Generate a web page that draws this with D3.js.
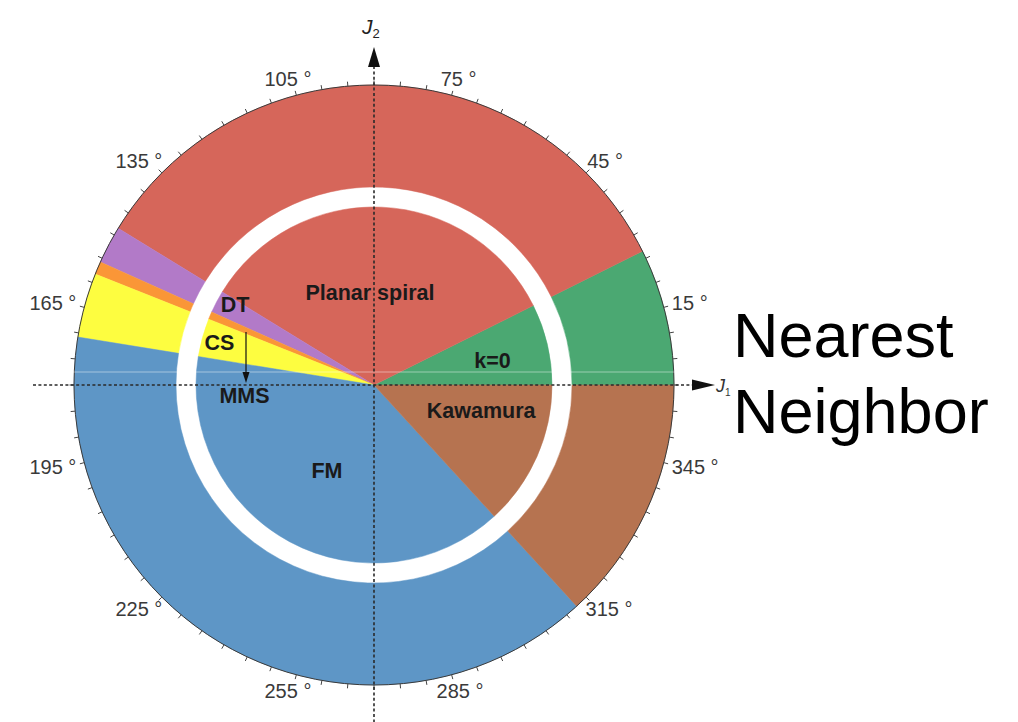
<!DOCTYPE html>
<html>
<head>
<meta charset="utf-8">
<script src="https://cdn.jsdelivr.net/npm/d3@7"></script>
<style>
  html, body { margin: 0; padding: 0; background: #fff; }
  svg { display: block; font-family: "Liberation Sans", Arial, Helvetica, sans-serif; }
</style>
</head>
<body>
<svg id="chart" width="1018" height="722"></svg>
<script>
// Phase sectors of the J1–J2 phase diagram (angles in degrees, counter-clockwise from +J1)
const phaseNames  = ["k=0", "Planar spiral", "DT", "", "CS", "FM", "Kawamura"];
const phaseStart  = [0, 26.5, 148.5, 155.8, 158.3, 170.8, 312.5];
const phaseEnd    = [26.5, 148.5, 155.8, 158.3, 170.8, 312.5, 360];
const phaseColors = ["#4ba872", "#d6665a", "#b27ac8", "#fa9637", "#fdfd40", "#5e96c6", "#b67350"];

// Angular tick labels around the outer ring
const tickAngles = [15, 45, 75, 105, 135, 165, 195, 225, 255, 285, 315, 345];
const tickLabels = ["15 °", "45 °", "75 °", "105 °", "135 °", "165 °", "195 °", "225 °", "255 °", "285 °", "315 °", "345 °"];

// Region label placement (angle in degrees, fraction of inner disc radius)
const labelText  = ["Planar spiral", "k=0", "Kawamura", "FM", "DT", "CS", "MMS"];
const labelAngle = [92.5, 11.5, -13.8, 241.3, 150.1, 164.7, 184.9];
const labelRadius = [0.52, 0.68, 0.62, 0.55, 0.90, 0.90, 0.73];

const svg = d3.select("#chart");
const cx = 374, cy = 385;
const R = 300, ringInner = 198, discR = 178;

// degrees (math convention) -> d3 arc angle (clockwise from 12 o'clock)
const ang = d3.scaleLinear().domain([0, 360]).range([Math.PI / 2, Math.PI / 2 - 2 * Math.PI]);
const rad = d3.scaleLinear().domain([0, 1]).range([0, discR]);
const px = (deg, r) => cx + r * Math.cos(deg * Math.PI / 180);
const py = (deg, r) => cy - r * Math.sin(deg * Math.PI / 180);

const sectors = phaseNames.map((n, i) => ({ name: n, a0: phaseStart[i], a1: phaseEnd[i], color: phaseColors[i] }));

const g = svg.append("g").attr("transform", `translate(${cx},${cy})`);

// outer ring
const outerArc = d3.arc().innerRadius(ringInner).outerRadius(R)
  .startAngle(d => ang(d.a1)).endAngle(d => ang(d.a0));
g.selectAll("path.outer").data(sectors).join("path")
  .attr("class", "outer").attr("d", outerArc).attr("fill", d => d.color)
  .attr("stroke", d => d.color).attr("stroke-width", 0.5);

// inner disc
const innerArc = d3.arc().innerRadius(0).outerRadius(discR)
  .startAngle(d => ang(d.a1)).endAngle(d => ang(d.a0));
g.selectAll("path.inner").data(sectors).join("path")
  .attr("class", "inner").attr("d", innerArc).attr("fill", d => d.color)
  .attr("stroke", d => d.color).attr("stroke-width", 0.5);

// outer boundary and 5° ticks
g.append("circle").attr("r", R).attr("fill", "none").attr("stroke", "#3a3a3a").attr("stroke-width", 1);
svg.append("g").selectAll("line").data(d3.range(0, 360, 5)).join("line")
  .attr("x1", d => px(d, R)).attr("y1", d => py(d, R))
  .attr("x2", d => px(d, R + 4.5)).attr("y2", d => py(d, R + 4.5))
  .attr("stroke", "#444").attr("stroke-width", 1);

// faint light streak across the diagram
svg.append("line").attr("x1", 60).attr("x2", 700).attr("y1", 372).attr("y2", 372)
  .attr("stroke", "#fff").attr("stroke-opacity", 0.22).attr("stroke-width", 2);

// dashed axes
const axisStyle = sel => sel.attr("stroke", "#2a2a2a").attr("stroke-width", 1.6).attr("stroke-dasharray", "3,2.4");
svg.append("line").attr("x1", 33).attr("y1", cy).attr("x2", 694).attr("y2", cy).call(axisStyle);
svg.append("line").attr("x1", cx).attr("y1", 66).attr("x2", cx).attr("y2", 722).call(axisStyle);

// axis arrowheads
svg.append("path").attr("d", `M${cx},47 L${cx - 6},67 L${cx + 6},67 Z`).attr("fill", "#111");
svg.append("path").attr("d", `M715,${cy} L692,${cy - 5.5} L692,${cy + 5.5} Z`).attr("fill", "#111");

// axis names
const j2 = svg.append("text").attr("x", 362).attr("y", 34).attr("font-size", 21).attr("fill", "#222").attr("font-style", "italic");
j2.append("tspan").text("J");
j2.append("tspan").attr("font-size", 13).attr("dy", 4).attr("font-style", "normal").text("2");
const j1 = svg.append("text").attr("x", 716).attr("y", 392).attr("font-size", 18).attr("fill", "#333").attr("font-style", "italic");
j1.append("tspan").text("J");
j1.append("tspan").attr("font-size", 10).attr("dy", 4).attr("font-style", "normal").text("1");

// angular tick labels, pushed outward by their box size
const tl = svg.append("g").selectAll("text").data(tickAngles).join("text")
  .attr("font-size", 20).attr("fill", "#3a3a3a")
  .attr("text-anchor", "middle").attr("dominant-baseline", "central")
  .text((d, i) => tickLabels[i]);
tl.each(function (d) {
  const w = this.getComputedTextLength(), h = 15;
  const t = d * Math.PI / 180;
  d3.select(this)
    .attr("x", px(d, 309) + (w / 2) * Math.cos(t))
    .attr("y", py(d, 309) - (h / 2) * Math.sin(t));
});

// region labels
svg.append("g").selectAll("text").data(labelText).join("text")
  .attr("x", (d, i) => px(labelAngle[i], rad(labelRadius[i])))
  .attr("y", (d, i) => py(labelAngle[i], rad(labelRadius[i])))
  .attr("text-anchor", "middle").attr("dominant-baseline", "central")
  .attr("font-size", 21.5).attr("font-weight", "bold").attr("fill", "#1a1a1a")
  .text(d => d);

// CS -> MMS arrow
svg.append("line").attr("x1", 246).attr("y1", 332).attr("x2", 246).attr("y2", 374)
  .attr("stroke", "#111").attr("stroke-width", 1.2);
svg.append("path").attr("d", "M246,383 L242.5,372 L249.5,372 Z").attr("fill", "#111");

// panel title
const title = svg.append("text").attr("x", 733).attr("font-size", 63).attr("fill", "#000");
title.append("tspan").attr("x", 733).attr("y", 357).text("Nearest");
title.append("tspan").attr("x", 733).attr("y", 433).text("Neighbor");
</script>
</body>
</html>
